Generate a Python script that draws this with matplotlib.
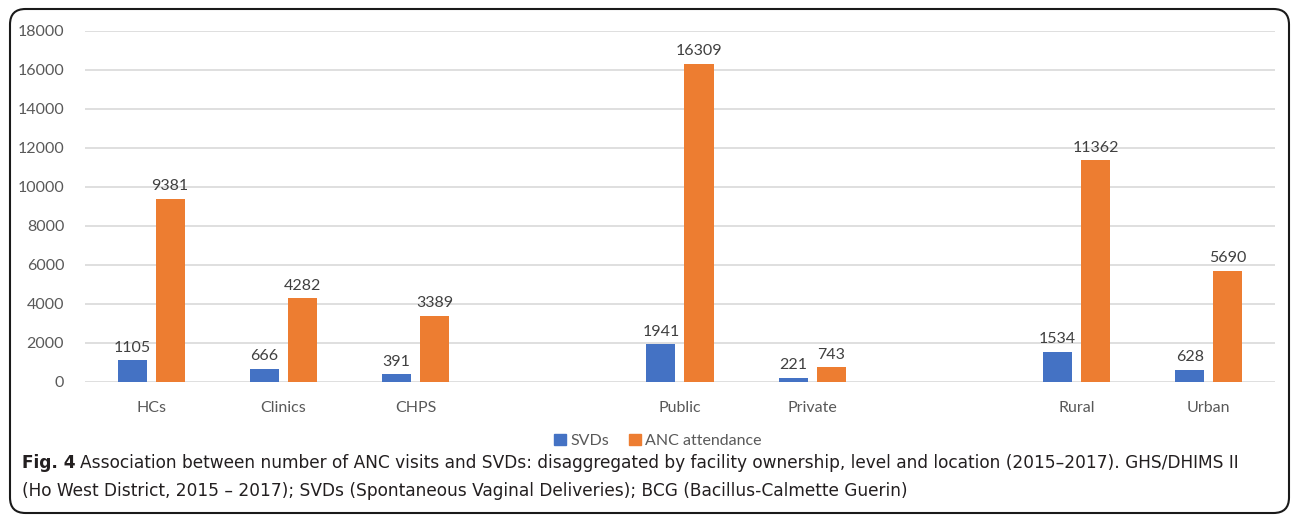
import matplotlib.pyplot as plt
import numpy as np
from matplotlib.patches import FancyBboxPatch

# data (blank slots are the gaps between groups)
categories = ['HCs', 'Clinics', 'CHPS', '', 'Public', 'Private', '', 'Rural', 'Urban']
svds = [1105, 666, 391, None, 1941, 221, None, 1534, 628]
anc = [9381, 4282, 3389, None, 16309, 743, None, 11362, 5690]
yticks = [0, 2000, 4000, 6000, 8000, 10000, 12000, 14000, 16000, 18000]

blue = '#4472C4'
orange = '#ED7D31'
grey_txt = '#595959'
grid_col = '#d9d9d9'
bar_w = 0.22
offset = 0.144
font = 'Lato'

fig = plt.figure(figsize=(12.92, 5.19), dpi=100)
ax = fig.add_axes([0.0658, 0.264, 0.921, 0.677])

x = np.arange(len(categories))
for i in range(len(categories)):
    if svds[i] is None:
        continue
    ax.bar(x[i] - offset, svds[i], bar_w, color=blue, zorder=3)
    ax.bar(x[i] + offset, anc[i], bar_w, color=orange, zorder=3)
    ax.annotate(str(svds[i]), (x[i] - offset, svds[i]), xytext=(0, 4), textcoords='offset points',
                ha='center', va='bottom', fontsize=11.5, color='#404040', family=font)
    ax.annotate(str(anc[i]), (x[i] + offset, anc[i]), xytext=(0, 4), textcoords='offset points',
                ha='center', va='bottom', fontsize=11.5, color='#404040', family=font)

ax.set_xlim(-0.5, len(categories) - 0.5)
ax.set_ylim(0, 18000)
ax.set_yticks(yticks)
ax.set_yticklabels([str(v) for v in yticks], fontsize=11.5, color=grey_txt, family=font)
ax.set_xticks(x)
ax.set_xticklabels(categories, fontsize=11.5, color=grey_txt, family=font)
ax.tick_params(length=0)
ax.tick_params(axis='y', pad=15)
ax.tick_params(axis='x', pad=14)
ax.grid(axis='y', color=grid_col, linewidth=1.2, zorder=0)
for s in ax.spines.values():
    s.set_visible(False)

# legend
handles = [plt.Rectangle((0, 0), 1, 1, color=blue), plt.Rectangle((0, 0), 1, 1, color=orange)]
fig.legend(handles, ['SVDs', 'ANC attendance'], loc='center', bbox_to_anchor=(658 / 1292, 1 - 441 / 519),
           ncol=2, frameon=False, prop={'family': font, 'size': 11.5}, labelcolor=grey_txt,
           handlelength=0.75, handleheight=0.75, handletextpad=0.3, columnspacing=1.2)

# caption
cap_font = 'DejaVu Sans'
cap_size = 12.25
t1 = fig.text(22 / 1292, 1 - 468 / 519, 'Fig. 4', fontsize=cap_size, fontweight='bold', color='#231f20',
              family=cap_font, va='baseline')
ax.annotate('Association between number of ANC visits and SVDs: disaggregated by facility ownership, level and '
            'location (2015\u20132017). GHS/DHIMS II', xy=(1, 0), xycoords=t1, xytext=(3, 0),
            textcoords='offset points', fontsize=cap_size, color='#231f20', family=cap_font,
            va='bottom', annotation_clip=False)
fig.text(22 / 1292, 1 - 496 / 519, '(Ho West District, 2015 \u2013 2017); SVDs (Spontaneous Vaginal Deliveries); '
         'BCG (Bacillus-Calmette Guerin)', fontsize=cap_size, color='#231f20', family=cap_font, va='baseline')

# rounded frame around the figure
frame = FancyBboxPatch((10 / 1292, 6 / 519), 1279 / 1292, 504 / 519, transform=fig.transFigure,
                       boxstyle='round,pad=0,rounding_size=0.012', fill=False, edgecolor='#1a1a1a',
                       linewidth=1.5, mutation_aspect=1292 / 519)
fig.patches.append(frame)

fig.savefig('out.png', dpi=100)
